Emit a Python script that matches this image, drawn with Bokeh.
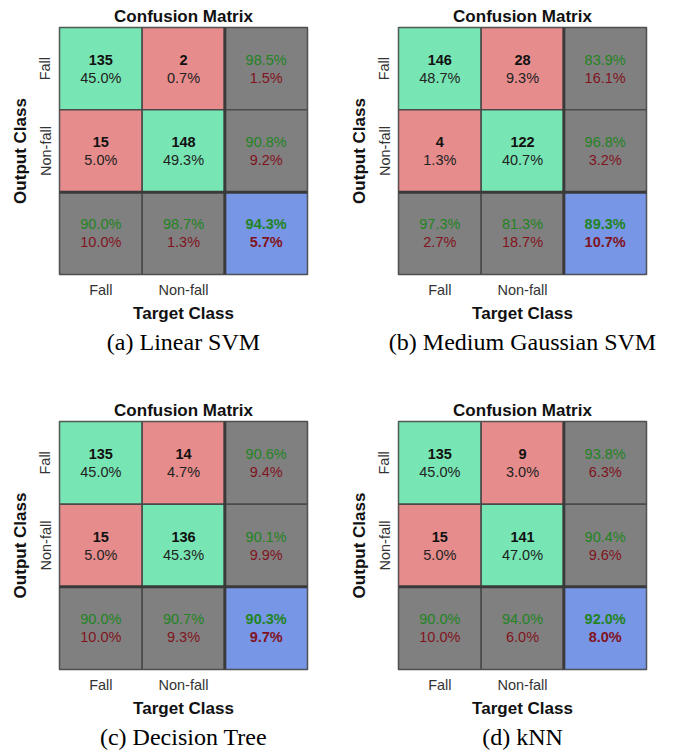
from bokeh.plotting import figure
from bokeh.layouts import column, row
from bokeh.models import Range1d, Title, FixedTicker, ColumnDataSource
from bokeh.core.properties import value
from bokeh.embed import file_html
from bokeh.resources import INLINE

classes = ["Fall", "Non-fall"]
captions = ["(a) Linear SVM", "(b) Medium Gaussian SVM", "(c) Decision Tree", "(d) kNN"]

# counts[output class][target class]
counts_a = [[135, 2], [15, 148]]
pcts_a = [["45.0%", "0.7%"], ["5.0%", "49.3%"]]
row_ok_a = ["98.5%", "90.8%"]
row_err_a = ["1.5%", "9.2%"]
col_ok_a = ["90.0%", "98.7%"]
col_err_a = ["10.0%", "1.3%"]
total_a = ["94.3%", "5.7%"]

counts_b = [[146, 28], [4, 122]]
pcts_b = [["48.7%", "9.3%"], ["1.3%", "40.7%"]]
row_ok_b = ["83.9%", "96.8%"]
row_err_b = ["16.1%", "3.2%"]
col_ok_b = ["97.3%", "81.3%"]
col_err_b = ["2.7%", "18.7%"]
total_b = ["89.3%", "10.7%"]

counts_c = [[135, 14], [15, 136]]
pcts_c = [["45.0%", "4.7%"], ["5.0%", "45.3%"]]
row_ok_c = ["90.6%", "90.1%"]
row_err_c = ["9.4%", "9.9%"]
col_ok_c = ["90.0%", "90.7%"]
col_err_c = ["10.0%", "9.3%"]
total_c = ["90.3%", "9.7%"]

counts_d = [[135, 9], [15, 141]]
pcts_d = [["45.0%", "3.0%"], ["5.0%", "47.0%"]]
row_ok_d = ["93.8%", "90.4%"]
row_err_d = ["6.3%", "9.6%"]
col_ok_d = ["90.0%", "94.0%"]
col_err_d = ["10.0%", "6.0%"]
total_d = ["92.0%", "8.0%"]

GREEN = "#78e6b4"
RED = "#e68c8c"
GRAY = "#808080"
BLUE = "#7896e6"
TXT_GREEN = "#228422"
TXT_RED = "#80141e"
SANS = "Liberation Sans"


def make_panel(caption, counts, pcts, row_ok, row_err, col_ok, col_err, total,
               width, height, bl, br, bt, bb):
    n = len(classes)
    p = figure(width=width, height=height, output_backend="svg", toolbar_location=None,
               x_range=Range1d(0, n + 1), y_range=Range1d(n + 1, 0),
               min_border_left=bl, min_border_right=br, min_border_top=bt, min_border_bottom=bb)
    xs, ys, fills = [], [], []
    top = dict(x=[], y=[], t=[], c=[])
    top_b = dict(x=[], y=[], t=[], c=[])
    bot = dict(x=[], y=[], t=[], c=[])
    bot_b = dict(x=[], y=[], t=[], c=[])
    for r in range(n + 1):
        for c in range(n + 1):
            cx, cy = c + 0.5, r + 0.5
            xs.append(cx)
            ys.append(cy)
            if r < n and c < n:
                fills.append(GREEN if r == c else RED)
                for d, t, col in ((top_b, str(counts[r][c]), "#111111"), (bot, pcts[r][c], "#222222")):
                    d["x"].append(cx); d["y"].append(cy); d["t"].append(t); d["c"].append(col)
            elif r < n and c == n:
                fills.append(GRAY)
                for d, t, col in ((top, row_ok[r], TXT_GREEN), (bot, row_err[r], TXT_RED)):
                    d["x"].append(cx); d["y"].append(cy); d["t"].append(t); d["c"].append(col)
            elif r == n and c < n:
                fills.append(GRAY)
                for d, t, col in ((top, col_ok[c], TXT_GREEN), (bot, col_err[c], TXT_RED)):
                    d["x"].append(cx); d["y"].append(cy); d["t"].append(t); d["c"].append(col)
            else:
                fills.append(BLUE)
                for d, t, col in ((top_b, total[0], TXT_GREEN), (bot_b, total[1], TXT_RED)):
                    d["x"].append(cx); d["y"].append(cy); d["t"].append(t); d["c"].append(col)
    p.rect(x=xs, y=ys, width=1, height=1, fill_color=fills, line_color="#4a4a4a", line_width=1.5)
    p.segment(x0=[n, 0], y0=[0, n], x1=[n, n + 1], y1=[n + 1, n], line_color="#3a3a3a", line_width=3)
    for d, off, style in ((top, -9, "normal"), (top_b, -9, "bold"), (bot, 9, "normal"), (bot_b, 9, "bold")):
        if not d["x"]:
            continue
        p.text(x="x", y="y", text="t", text_color="c", source=ColumnDataSource(d),
               text_align="center", text_baseline="middle", y_offset=off,
               text_font=value(SANS), text_font_size="14.5px", text_font_style=style)

    p.title.text = "Confusion Matrix"
    p.title.align = "center"
    p.title.text_font = SANS
    p.title.text_font_size = "17px"
    p.title.text_font_style = "bold"
    p.title.text_color = "#111111"
    p.title.standoff = 3

    ticks = [i + 0.5 for i in range(n)]
    for ax in (p.xaxis[0], p.yaxis[0]):
        ax.ticker = FixedTicker(ticks=ticks)
        ax.major_label_overrides = {t: lab for t, lab in zip(ticks, classes)}
        ax.major_tick_in = 0
        ax.major_tick_out = 0
        ax.minor_tick_line_color = None
        ax.axis_line_color = None
        ax.major_label_text_font = SANS
        ax.major_label_text_font_size = "14.5px"
        ax.major_label_text_color = "#333333"
        ax.major_label_standoff = 6
        ax.axis_label_text_font = SANS
        ax.axis_label_text_font_size = "17px"
        ax.axis_label_text_font_style = "bold"
        ax.axis_label_text_color = "#111111"
        ax.axis_label_standoff = 5
    p.xaxis.major_label_standoff = 7
    p.xaxis.axis_label_standoff = 3
    p.xaxis.axis_label = "Target Class"
    p.yaxis.axis_label = "Output Class"
    p.yaxis.major_label_orientation = "vertical"
    p.grid.visible = False
    p.outline_line_color = "#4a4a4a"
    p.outline_line_width = 1.5

    cap = Title(text=caption, align="center", text_font="Liberation Serif",
                text_font_size="24px", text_font_style="normal", text_color="black", standoff=3)
    p.add_layout(cap, "below")
    return p


pa = make_panel(captions[0], counts_a, pcts_a, row_ok_a, row_err_a, col_ok_a, col_err_a, total_a,
                329, 380, 59, 22, 27, 106)
pb = make_panel(captions[1], counts_b, pcts_b, row_ok_b, row_err_b, col_ok_b, col_err_b, total_b,
                329, 380, 69, 12, 27, 106)
pc = make_panel(captions[2], counts_c, pcts_c, row_ok_c, row_err_c, col_ok_c, col_err_c, total_c,
                329, 374, 59, 22, 41, 85)
pd = make_panel(captions[3], counts_d, pcts_d, row_ok_d, row_err_d, col_ok_d, col_err_d, total_d,
                329, 374, 69, 12, 41, 85)

layout = column(row(pa, pb), row(pc, pd))
open("out.html", "w").write(file_html(layout, INLINE))
